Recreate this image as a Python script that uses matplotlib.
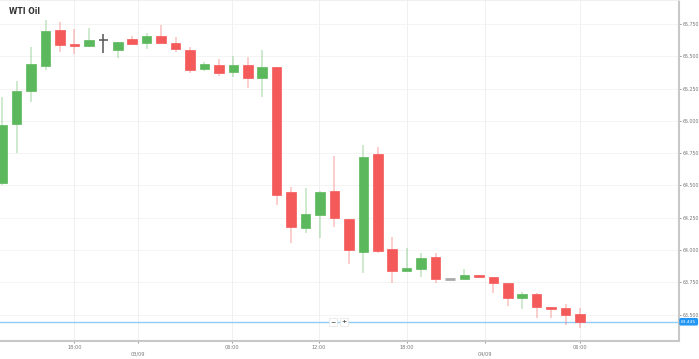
import numpy as np
import matplotlib
matplotlib.use('Agg')
import matplotlib.pyplot as plt

# hourly candles, WTI Oil
opens = [64.519, 64.976, 65.231, 65.425, 65.704, 65.595, 65.580, 65.626, 65.549, 65.634,
         65.603, 65.657, 65.603, 65.549, 65.402, 65.433, 65.378, 65.433, 65.332, 65.417,
         64.450, 64.171, 64.272, 64.457, 64.241, 63.985, 64.744, 64.009, 63.838, 63.854,
         63.947, 63.776, 63.776, 63.807, 63.792, 63.745, 63.629, 63.660, 63.560, 63.552,
         63.506]
closes = [64.968, 65.231, 65.440, 65.696, 65.587, 65.580, 65.626, 65.626, 65.611, 65.595,
          65.657, 65.603, 65.557, 65.394, 65.440, 65.371, 65.433, 65.332, 65.417, 64.426,
          64.179, 64.279, 64.450, 64.248, 64.001, 64.721, 63.993, 63.838, 63.861, 63.939,
          63.776, 63.776, 63.807, 63.792, 63.745, 63.629, 63.660, 63.560, 63.544, 63.498,
          63.445]
highs = [65.185, 65.309, 65.572, 65.781, 65.765, 65.711, 65.719, 65.673, 65.611, 65.657,
         65.680, 65.742, 65.649, 65.572, 65.456, 65.479, 65.502, 65.495, 65.549, 65.417,
         64.488, 64.481, 64.457, 64.728, 64.241, 64.813, 64.798, 64.101, 64.016, 63.978,
         63.978, 63.776, 63.854, 63.807, 63.792, 63.745, 63.676, 63.668, 63.560, 63.583,
         63.552]
lows = [64.500, 64.752, 65.146, 65.394, 65.533, 65.518, 65.572, 65.526, 65.487, 65.595,
        65.557, 65.603, 65.533, 65.371, 65.386, 65.348, 65.340, 65.255, 65.185, 64.349,
        64.055, 64.132, 64.094, 64.179, 63.892, 63.823, 63.978, 63.745, 63.838, 63.792,
        63.745, 63.776, 63.776, 63.784, 63.668, 63.567, 63.544, 63.475, 63.475, 63.420,
        63.397]
last_price = 63.445

yticks = [63.5, 63.75, 64.0, 64.25, 64.5, 64.75, 65.0, 65.25, 65.5, 65.75]
time_pos = [5.0, 15.9, 21.9, 28.0, 40.0]
time_labels = ['18:00', '06:00', '12:00', '18:00', '06:00']
date_pos = [9.4, 33.4]
date_labels = ['03/09', '04/09']

green = '#5cb85c'
red = '#f55a5a'

fig = plt.figure(figsize=(6.99, 3.59), dpi=100)
ax = fig.add_axes([0, 18 / 359, 679 / 699, 341 / 359])

x = np.arange(len(opens))
o = np.array(opens)
c = np.array(closes)
up = c > o
flat = c == o

cols = np.where(up, green, red)
ax.vlines(x[~flat], np.array(lows)[~flat], np.array(highs)[~flat],
          colors=cols[~flat], alpha=0.35, linewidth=1.2, zorder=2)
bottoms = np.minimum(o, c)
heights = np.maximum(np.abs(c - o), 0.012)
ax.bar(x[~flat], heights[~flat], bottom=bottoms[~flat], width=0.66,
       color=cols[~flat], edgecolor=cols[~flat], linewidth=0.5, zorder=3)

# doji candles
ax.vlines([7], [lows[7]], [highs[7]], colors='#555555', linewidth=1.1, zorder=2)
ax.hlines([opens[7]], 7 - 0.33, 7 + 0.33, colors='#555555', linewidth=1.1, zorder=3)
ax.hlines([opens[31]], 31 - 0.33, 31 + 0.33, colors='#aaaaaa', linewidth=2, zorder=3)

ax.axhline(last_price, color='#8ecdf5', linewidth=1, zorder=1)

ax.set_xlim(-0.15, 46.85)
ax.set_ylim(63.296, 65.936)

ax.yaxis.tick_right()
ax.set_yticks(yticks)
ax.set_yticklabels(['%.3f' % v for v in yticks])
ax.tick_params(axis='y', labelsize=3.4, colors='#777777', length=1.5, width=0.5, pad=1)

ax.set_xticks(time_pos)
ax.set_xticklabels(time_labels)
ax.set_xticks(date_pos, minor=True)
ax.set_xticklabels(date_labels, minor=True)
ax.tick_params(axis='x', which='major', labelsize=3.6, colors='#777777', length=1.5, width=0.5, pad=1.5)
ax.tick_params(axis='x', which='minor', labelsize=3.6, colors='#777777', length=1.5, width=0.5, pad=6)

ax.grid(axis='y', color='#f2f2f2', linewidth=0.6, zorder=0)
for p in time_pos + date_pos:
    ax.axvline(p, color='#eeeeee', linewidth=0.6, zorder=0)

ax.spines['left'].set_visible(False)
ax.spines['top'].set_color('#eeeeee')
ax.spines['top'].set_linewidth(0.6)
ax.spines['right'].set_color('#c8c8c8')
ax.spines['right'].set_linewidth(1.5)
ax.spines['bottom'].set_color('#c8c8c8')
ax.spines['bottom'].set_linewidth(1.5)

ax.text(9 / 679, 1 - 11 / 341, 'WTI Oil', transform=ax.transAxes, fontsize=5.5,
        fontweight='bold', color='#333333', va='center', ha='left')

ypos = (last_price - 63.296) / (65.936 - 63.296)
ax.text(1.003, ypos, '%.3f' % last_price,
        transform=ax.transAxes, fontsize=3.2, color='white', va='center', ha='left',
        bbox=dict(boxstyle='round,pad=0.25', fc='#2196f3', ec='#2196f3'), clip_on=False)

for xp, s in [(333, '\u2212'), (344, '+')]:
    ax.text(xp / 679, ypos, s, transform=ax.transAxes,
            fontsize=4.5, color='#555555', va='center', ha='center', fontweight='bold',
            bbox=dict(boxstyle='square,pad=0.2', fc='white', ec='#dddddd', lw=0.4), zorder=5)

fig.savefig('out.png', dpi=100)
